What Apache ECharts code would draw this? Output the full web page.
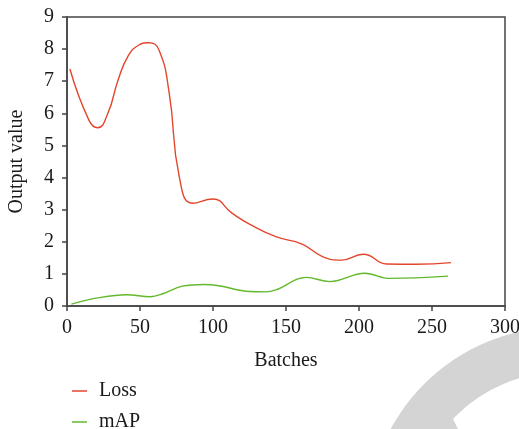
<!DOCTYPE html>
<html lang="en">

<head>
    <meta charset="UTF-8">
    <script type="text/javascript" src="https://cdn.jsdelivr.net/npm/echarts@6/dist/echarts.min.js"></script>
    <title>Loss / mAP</title>
    <style>
        html, body { margin: 0; padding: 0; background: #fff; }
    </style>
</head>

<body>
    <div id="container" style="width: 519px; height: 429px"></div>
</body>
<script type="text/javascript">
    // batches / values
    var lossBatches = [2, 15, 21, 28, 35, 42, 49, 56, 63, 70, 77, 86, 100, 113, 125, 143, 161, 175, 188, 203, 219, 239, 263];
    var lossValues = [7.38, 5.79, 5.55, 6.0, 7.04, 7.8, 8.12, 8.2, 7.97, 6.63, 4.0, 3.2, 3.33, 2.89, 2.55, 2.16, 1.93, 1.54, 1.43, 1.61, 1.31, 1.3, 1.35];
    var mapBatches = [3, 22, 41, 57, 66, 79, 94, 104, 125, 136, 143, 164, 180, 204, 221, 261];
    var mapValues = [0.06, 0.26, 0.35, 0.29, 0.39, 0.62, 0.67, 0.63, 0.45, 0.44, 0.5, 0.89, 0.76, 1.02, 0.86, 0.93];

    var xTicks = { min: 0, max: 300, interval: 50 };
    var yTicks = { min: 0, max: 9, interval: 1 };

    function pairs(xs, ys) {
        return xs.map(function (x, i) { return [x, ys[i]]; });
    }

    var font = 'Liberation Serif';
    var axisColor = '#444';
    var textColor = '#1a1a1a';

    function legendAt(name, top) {
        return {
            left: 67, top: top,
            icon: 'rect',
            itemWidth: 15, itemHeight: 1.5,
            textStyle: { fontFamily: font, fontSize: 20, color: textColor, padding: [0, 0, 0, 7] },
            data: [name]
        };
    }

    var dom = document.getElementById('container');
    var myChart = echarts.init(dom, null, { renderer: 'canvas' });

    var option = {
        animation: false,
        grid: {
            left: 67, right: 14, top: 17, bottom: 123,
            outerBoundsMode: 'none', containLabel: false,
            show: true, borderColor: axisColor, borderWidth: 1.5
        },
        legend: [legendAt('Loss', 376), legendAt('mAP', 407)],
        xAxis: {
            type: 'value',
            min: xTicks.min, max: xTicks.max, interval: xTicks.interval,
            name: 'Batches', nameLocation: 'middle', nameGap: 45,
            nameTextStyle: { fontFamily: font, fontSize: 20, color: textColor },
            axisLine: { lineStyle: { color: axisColor, width: 1.5 } },
            axisTick: { show: true, length: 5, lineStyle: { color: axisColor, width: 1.5 } },
            axisLabel: { fontFamily: font, fontSize: 20, color: textColor, margin: 12 },
            splitLine: { show: false }
        },
        yAxis: {
            type: 'value',
            min: yTicks.min, max: yTicks.max, interval: yTicks.interval,
            name: 'Output value', nameLocation: 'middle', nameGap: 40,
            nameTextStyle: { fontFamily: font, fontSize: 20, color: textColor },
            axisLine: { show: true, lineStyle: { color: axisColor, width: 1.5 } },
            axisTick: { show: true, length: 5, lineStyle: { color: axisColor, width: 1.5 } },
            axisLabel: { fontFamily: font, fontSize: 20, color: textColor, margin: 13 },
            splitLine: { show: false }
        },
        graphic: [
            // grey watermark in the corner
            {
                type: 'sector', z: -10, silent: true,
                shape: { cx: 562, cy: 522, r: 195, r0: 150, startAngle: Math.PI, endAngle: Math.PI * 1.5 },
                style: { fill: '#d4d4d4' }
            },
            {
                type: 'polygon', z: -10, silent: true,
                shape: { points: [[450, 413], [436, 429], [458, 429]] },
                style: { fill: '#d4d4d4' }
            }
        ],
        series: [
            {
                name: 'Loss', type: 'line', smooth: 0.5, symbol: 'none',
                lineStyle: { color: '#e2472d', width: 1.4 },
                itemStyle: { color: '#e2472d' },
                data: pairs(lossBatches, lossValues)
            },
            {
                name: 'mAP', type: 'line', smooth: 0.4, symbol: 'none',
                lineStyle: { color: '#62b92c', width: 1.4 },
                itemStyle: { color: '#62b92c' },
                data: pairs(mapBatches, mapValues)
            }
        ]
    };

    myChart.setOption(option);
    window.addEventListener('resize', myChart.resize);
</script>

</html>
